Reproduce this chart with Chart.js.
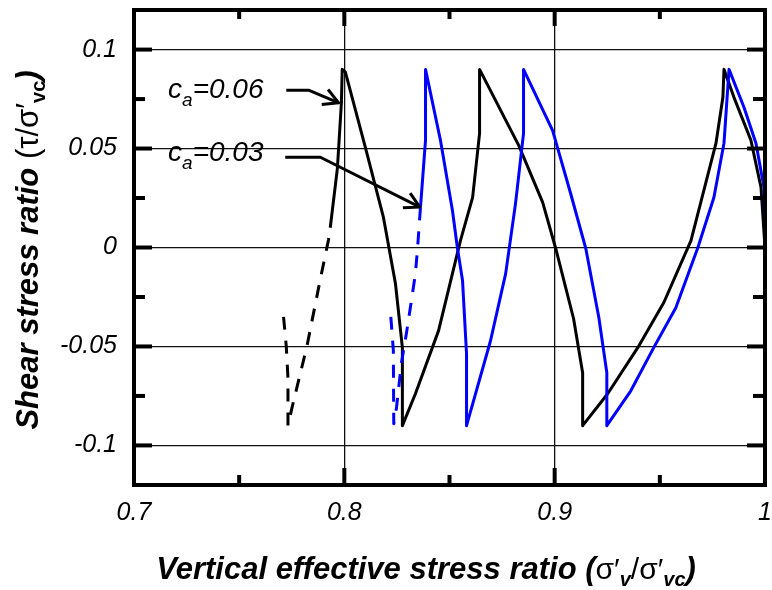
<!DOCTYPE html>
<html>
<head>
<meta charset="utf-8">
<script src="https://cdn.jsdelivr.net/npm/chart.js@4/dist/chart.umd.min.js"></script>
<style>
  body { margin: 0; background: #fff; }
  canvas { display: block; }
</style>
</head>
<body>
<canvas id="stressChart" width="772" height="590"></canvas>
<script>
// c_a = 0.06 (black): dashed start, then solid cycles
const blackDashX = [0.7711, 0.7724, 0.7732, 0.7732, 0.7751, 0.7822, 0.7882, 0.7925, 0.7933];
const blackDashY = [-0.035, -0.050, -0.066, -0.090, -0.081, -0.050, -0.018, 0.004, 0.010];
const blackX = [0.7933, 0.7967, 0.7986, 0.7990, 0.8005, 0.8100, 0.8186, 0.8243, 0.8276, 0.8276,
                0.8338, 0.8448, 0.8552, 0.8610, 0.8643, 0.8643, 0.8829, 0.8943, 0.9005, 0.9090,
                0.9133, 0.9133, 0.9252, 0.9395, 0.9519, 0.9648, 0.9767, 0.9800, 0.9805, 0.9852,
                0.9933, 0.9981, 1.0];
const blackY = [0.010, 0.040, 0.073, 0.090, 0.0886, 0.0506, 0.0152, -0.0182, -0.0506, -0.090,
                -0.0739, -0.042, 0.0035, 0.0253, 0.0577, 0.090, 0.0516, 0.0228, -0.0005, -0.036,
                -0.0633, -0.090, -0.0739, -0.0506, -0.0278, 0.0035, 0.0527, 0.076, 0.090, 0.076,
                0.0542, 0.0304, 0];

// c_a = 0.03 (blue)
const blueDashX = [0.8221, 0.8233, 0.8235, 0.8248, 0.8271, 0.8295, 0.8319, 0.8338, 0.8348, 0.8362];
const blueDashY = [-0.035, -0.052, -0.089, -0.081, -0.0587, -0.0435, -0.0268, -0.0132, -0.0005, 0.0203];
const blueX = [0.8362, 0.8386, 0.8386, 0.8457, 0.8514, 0.8538, 0.8562, 0.8581, 0.8581, 0.8695,
               0.8767, 0.8814, 0.8852, 0.8852, 0.8990, 0.9076, 0.9148, 0.9210, 0.9248, 0.9248,
               0.9362, 0.9471, 0.9576, 0.9681, 0.9757, 0.9805, 0.9829, 0.9900, 0.9957, 0.9995,
               1.0];
const blueY = [0.0203, 0.0542, 0.090, 0.0542, 0.0187, -0.0005, -0.0167, -0.0537, -0.090, -0.0471,
               -0.0132, 0.0223, 0.0577, 0.090, 0.0592, 0.0273, -0.0005, -0.0354, -0.0633, -0.090,
               -0.0724, -0.0506, -0.0304, 0, 0.0253, 0.0527, 0.090, 0.0709, 0.0527, 0.0304,
               0];

const xTickValues = [0.7, 0.8, 0.9, 1.0];
const xTickLabels = ['0.7', '0.8', '0.9', '1'];
const xMinorTicks = [0.75, 0.85, 0.95];
const yTickValues = [-0.1, -0.05, 0, 0.05, 0.1];
const yTickLabels = ['-0.1', '-0.05', '0', '0.05', '0.1'];
const yMinorTicks = [-0.075, -0.025, 0.025, 0.075];

// annotation text anchors and arrow paths, in data units
const labels = [
  { value: '0.06', at: [0.7162, 0.0754], path: [[0.7724, 0.0795], [0.7830, 0.0795], [0.7973, 0.0731]] },
  { value: '0.03', at: [0.7162, 0.0436], path: [[0.7719, 0.0456], [0.7886, 0.0456], [0.8359, 0.0204]] }
];

const FONT = '"Liberation Sans", Arial, sans-serif';

function pts(xs, ys) {
  return xs.map((x, i) => ({ x: x, y: ys[i] }));
}

function drawRich(ctx, parts, x, y) {
  // parts drawn left to right, centred on x
  let total = 0;
  parts.forEach(p => { ctx.font = p.font; total += ctx.measureText(p.t).width; });
  let cx = x - total / 2;
  parts.forEach(p => {
    ctx.font = p.font;
    ctx.fillText(p.t, cx, y + (p.dy || 0));
    cx += ctx.measureText(p.t).width;
  });
}

const decorations = {
  id: 'decorations',
  afterDraw(chart) {
    const ctx = chart.ctx;
    const a = chart.chartArea;
    const xs = chart.scales.x, ys = chart.scales.y;
    ctx.save();
    ctx.strokeStyle = '#000';
    ctx.fillStyle = '#000';
    ctx.lineWidth = 4;

    function seg(x1, y1, x2, y2) {
      ctx.beginPath(); ctx.moveTo(x1, y1); ctx.lineTo(x2, y2); ctx.stroke();
    }

    // inward ticks on all four sides
    xTickValues.forEach(v => {
      const p = xs.getPixelForValue(v);
      seg(p, a.bottom, p, a.bottom - 17);
      seg(p, a.top, p, a.top + 16);
    });
    xMinorTicks.forEach(v => {
      const p = xs.getPixelForValue(v);
      seg(p, a.bottom, p, a.bottom - 10);
      seg(p, a.top, p, a.top + 9);
    });
    yTickValues.forEach(v => {
      const p = ys.getPixelForValue(v);
      seg(a.left, p, a.left + 18, p);
      seg(a.right, p, a.right - 18, p);
    });
    yMinorTicks.forEach(v => {
      const p = ys.getPixelForValue(v);
      seg(a.left, p, a.left + 11, p);
      seg(a.right, p, a.right - 12, p);
    });
    ctx.strokeRect(a.left, a.top, a.right - a.left, a.bottom - a.top);

    // c_a labels with arrows
    labels.forEach(l => {
      const tx = xs.getPixelForValue(l.at[0]);
      const ty = ys.getPixelForValue(l.at[1]);
      ctx.textBaseline = 'alphabetic';
      ctx.textAlign = 'left';
      let cx = tx;
      ctx.font = 'italic 28px ' + FONT;
      ctx.fillText('c', cx, ty);
      cx += ctx.measureText('c').width;
      ctx.font = 'italic 19px ' + FONT;
      ctx.fillText('a', cx, ty + 8);
      cx += ctx.measureText('a').width;
      ctx.font = 'italic 28px ' + FONT;
      ctx.fillText('=' + l.value, cx, ty);

      const pp = l.path.map(q => [xs.getPixelForValue(q[0]), ys.getPixelForValue(q[1])]);
      ctx.lineWidth = 3;
      ctx.lineJoin = 'round';
      ctx.beginPath();
      ctx.moveTo(pp[0][0], pp[0][1]);
      for (let i = 1; i < pp.length; i++) ctx.lineTo(pp[i][0], pp[i][1]);
      ctx.stroke();
      const tip = pp[pp.length - 1], prev = pp[pp.length - 2];
      const ang = Math.atan2(tip[1] - prev[1], tip[0] - prev[0]);
      const len = 17, spread = 0.5;
      ctx.beginPath();
      ctx.moveTo(tip[0] - len * Math.cos(ang - spread), tip[1] - len * Math.sin(ang - spread));
      ctx.lineTo(tip[0], tip[1]);
      ctx.lineTo(tip[0] - len * Math.cos(ang + spread), tip[1] - len * Math.sin(ang + spread));
      ctx.stroke();
    });

    // axis titles
    ctx.textAlign = 'left';
    ctx.textBaseline = 'alphabetic';
    const bi = 'italic bold 31px ' + FONT;
    const rg = '30px ' + FONT;
    const sub = 'italic bold 20px ' + FONT;
    drawRich(ctx, [
      { t: 'Vertical effective stress ratio (', font: bi },
      { t: 'σ\u2032', font: rg },
      { t: 'v', font: sub, dy: 7 },
      { t: '/σ\u2032', font: rg },
      { t: 'vc', font: sub, dy: 7 },
      { t: ')', font: bi }
    ], 426, 579);

    ctx.translate(38, 250);
    ctx.rotate(-Math.PI / 2);
    const bi2 = 'italic bold 31px ' + FONT;
    const rg2 = '31px ' + FONT;
    const sub2 = 'bold 20px ' + FONT;
    drawRich(ctx, [
      { t: 'Shear stress ratio ', font: bi2 },
      { t: '(τ/σ\u2032', font: rg2 },
      { t: 'vc', font: sub2, dy: 7 },
      { t: ')', font: bi2 }
    ], 0, 0);
    ctx.restore();
  }
};

const tickFont = { family: FONT, size: 25, style: 'italic' };

new Chart(document.getElementById('stressChart'), {
  type: 'scatter',
  data: {
    datasets: [
      { data: pts(blueDashX, blueDashY), borderColor: '#0000ff', borderDash: [13, 11] },
      { data: pts(blueX, blueY), borderColor: '#0000ff' },
      { data: pts(blackDashX, blackDashY), borderColor: '#000', borderDash: [13, 11] },
      { data: pts(blackX, blackY), borderColor: '#000' }
    ]
  },
  options: {
    responsive: false,
    animation: false,
    showLine: true,
    layout: { autoPadding: false, padding: { top: 10, right: 7, left: 0, bottom: 0 } },
    elements: {
      point: { radius: 0, hoverRadius: 0 },
      line: { borderWidth: 3, tension: 0, fill: false, borderCapStyle: 'butt', borderJoinStyle: 'round' }
    },
    plugins: { legend: { display: false }, tooltip: { enabled: false } },
    scales: {
      x: {
        type: 'linear',
        min: 0.7,
        max: 1.0,
        afterBuildTicks: s => { s.ticks = xTickValues.map(v => ({ value: v })); },
        afterFit: s => { s.height = 105; s.paddingLeft = 0; s.paddingRight = 0; },
        ticks: {
          color: '#000',
          font: tickFont,
          padding: 13,
          maxRotation: 0,
          callback: (v, i) => xTickLabels[i]
        },
        grid: {
          drawTicks: false,
          lineWidth: 1.3,
          color: c => (c.tick && (c.tick.value === 0.8 || c.tick.value === 0.9)) ? '#111' : 'rgba(0,0,0,0)'
        },
        border: { display: false }
      },
      y: {
        type: 'linear',
        min: -0.12,
        max: 0.12,
        afterBuildTicks: s => { s.ticks = yTickValues.map(v => ({ value: v })); },
        afterFit: s => { s.width = 134; s.paddingTop = 0; s.paddingBottom = 0; },
        ticks: {
          color: '#000',
          font: tickFont,
          padding: 17,
          callback: (v, i) => yTickLabels[i]
        },
        grid: { drawTicks: false, lineWidth: 1.3, color: '#111' },
        border: { display: false }
      }
    }
  },
  plugins: [decorations]
});
</script>
</body>
</html>
